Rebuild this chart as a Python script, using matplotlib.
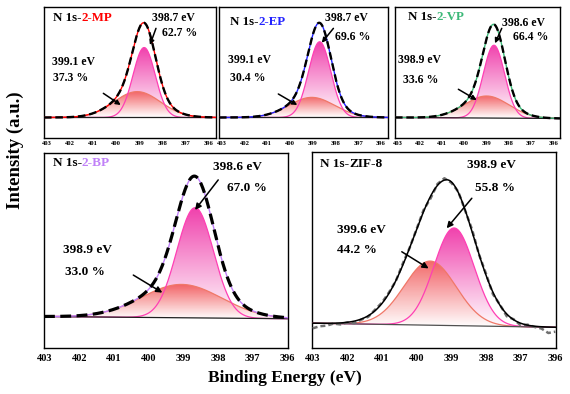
import numpy as np
import matplotlib
matplotlib.use('Agg')
import matplotlib.pyplot as plt
from matplotlib.colors import LinearSegmentedColormap

plt.rcParams['font.family'] = ['Liberation Serif', 'DejaVu Serif']
plt.rcParams['font.weight'] = 'bold'

# ---------------- data ----------------
energy_ticks = [403, 402, 401, 400, 399, 398, 397, 396]
samples = ['2-MP', '2-EP', '2-VP', '2-BP', 'ZIF-8']
sample_colors = ['#FF0000', '#2222FF', '#3CB878', '#C080F8', '#000000']

# main (pink) component: centre (eV), height (norm.), gaussian sigma (eV)
peak1_center = [398.80, 398.70, 398.67, 398.66, 398.92]
peak1_height = [0.73, 0.79, 0.76, 0.76, 0.67]
peak1_sigma = [0.48, 0.49, 0.48, 0.53, 0.58]
# second (salmon) component
peak2_center = [399.10, 399.05, 399.00, 399.05, 399.61]
peak2_height = [0.27, 0.21, 0.23, 0.23, 0.44]
peak2_sigma = [1.00, 1.00, 1.00, 1.15, 0.75]
# linear background (value at 403 eV, value at 396 eV)
baseline_ends = [(0.0, 0.0), (0.0, 0.0), (0.0, -0.01), (0.005, -0.01), (0.012, -0.016)]

label1_energy = ['398.7 eV', '398.7 eV', '398.6 eV', '398.6 eV', '398.9 eV']
label1_pct = ['62.7 %', '69.6 %', '66.4 %', '67.0 %', '55.8 %']
label2_energy = ['399.1 eV', '399.1 eV', '398.9 eV', '398.9 eV', '399.6 eV']
label2_pct = ['37.3 %', '30.4 %', '33.6 %', '33.0 %', '44.2 %']

# ZIF-8 fitted envelope (asymmetric) and raw spectrum
zif_env_center = 399.13
zif_env_height = 1.0
zif_env_sigma_high = 0.95
zif_env_sigma_low = 0.78
zif_raw_energy = [403.0, 402.8, 402.6, 402.4, 402.2, 402.0, 401.8, 401.6, 401.4, 401.2,
                  401.0, 400.8, 400.6, 400.4, 400.2, 400.0, 399.8, 399.6, 399.4, 399.2,
                  399.0, 398.8, 398.6, 398.4, 398.2, 398.0, 397.8, 397.6, 397.4, 397.2,
                  397.0, 396.8, 396.6, 396.4, 396.2, 396.0]
zif_raw_intensity = [-0.035, -0.02, -0.015, 0.0, -0.005, 0.01, 0.005, 0.03, 0.05, 0.10,
                     0.15, 0.22, 0.30, 0.42, 0.53, 0.66, 0.79, 0.87, 0.97, 1.01,
                     0.98, 0.92, 0.79, 0.66, 0.49, 0.36, 0.22, 0.15, 0.07, 0.05,
                     0.01, 0.015, 0.0, -0.01, -0.04, -0.03]

# ---------------- layout (style) ----------------
W, H = 570, 394
rects_px = [(44, 7, 216, 138), (219, 7, 388, 138), (395, 7, 560, 138),
            (44, 153, 288, 348), (312, 152, 556, 348)]
xlims = [(403.12, 395.7)] * 3 + [(403.02, 395.98)] * 2
ylims = [(-0.214, 1.153)] * 3 + [(-0.212, 1.133), (-0.158, 1.187)]
small = [True, True, True, False, False]

title_pos = [(0.05, 0.916), (0.065, 0.888), (0.081, 0.926), (0.036, 0.947), (0.033, 0.939)]
l1e_pos = [(0.626, 0.914), (0.627, 0.914), (0.647, 0.875), (0.694, 0.93), (0.634, 0.934)]
l1p_pos = [(0.684, 0.80), (0.686, 0.773), (0.717, 0.773), (0.749, 0.819), (0.668, 0.815)]
a1 = [((0.651, 0.837), (0.616, 0.71)), ((0.677, 0.837), (0.608, 0.727)),
      ((0.647, 0.837), (0.606, 0.723)), ((0.714, 0.862), (0.619, 0.708)),
      ((0.655, 0.764), (0.552, 0.611))]
l2e_pos = [(0.045, 0.582), (0.055, 0.595), (0.02, 0.595), (0.079, 0.503), (0.101, 0.602)]
l2p_pos = [(0.054, 0.456), (0.065, 0.456), (0.05, 0.443), (0.086, 0.391), (0.101, 0.50)]
a2 = [((0.345, 0.341), (0.446, 0.252)), ((0.351, 0.336), (0.463, 0.252)),
      ((0.384, 0.372), (0.495, 0.29)), ((0.366, 0.374), (0.485, 0.284)),
      ((0.368, 0.491), (0.478, 0.406))]

PINK_LINE = '#FF3FB4'
PINK_FILL = '#F040AC'
SALMON_LINE = '#F07868'
SALMON_FILL = '#F25A5A'


def gauss(x, c, h, s):
    return h * np.exp(-0.5 * ((x - c) / s) ** 2)


def grad_fill(ax, x, base, top, color, z, alpha=1.0):
    poly = ax.fill_between(x, base, top, facecolor='none', edgecolor='none', zorder=z)
    cmap = LinearSegmentedColormap.from_list('g', ['#FFFFFF', color])
    grad = np.linspace(0, 1, 256).reshape(-1, 1)
    img = ax.imshow(grad, cmap=cmap, aspect='auto', origin='lower',
                    extent=[x.min(), x.max(), base.min(), top.max()],
                    zorder=z, alpha=alpha, interpolation='bilinear')
    img.set_clip_path(poly.get_paths()[0], transform=ax.transData)


fig = plt.figure(figsize=(W / 100, H / 100), dpi=100)

for i in range(5):
    l, t, r, b = rects_px[i]
    ax = fig.add_axes([l / W, 1 - b / H, (r - l) / W, (b - t) / H])
    x = np.linspace(xlims[i][0], xlims[i][1], 800)
    b0, b1 = baseline_ends[i]
    base = b0 + (b1 - b0) * (403.0 - x) / 7.0
    p1 = gauss(x, peak1_center[i], peak1_height[i], peak1_sigma[i])
    p2 = gauss(x, peak2_center[i], peak2_height[i], peak2_sigma[i])

    grad_fill(ax, x, base, base + p1, PINK_FILL, 2)
    grad_fill(ax, x, base, base + p2, SALMON_FILL, 3, alpha=0.92)
    ax.plot(x, base + p2, color=SALMON_LINE, lw=0.9, zorder=4)
    ax.plot(x, base + p1, color=PINK_LINE, lw=0.9, zorder=4)

    if samples[i] == 'ZIF-8':
        env = np.where(x >= zif_env_center,
                       gauss(x, zif_env_center, zif_env_height, zif_env_sigma_high),
                       gauss(x, zif_env_center, zif_env_height, zif_env_sigma_low))
        ax.plot(x, base, color='#505050', lw=0.9, zorder=5)
        rx = np.array(zif_raw_energy)
        rbase = b0 + (b1 - b0) * (403.0 - rx) / 7.0
        ax.plot(rx, rbase + np.array(zif_raw_intensity), color='#707070', lw=1.8,
                ls=(0, (2, 1.2)), zorder=6)
        ax.plot(x, base + env, color='black', lw=1.1, zorder=7)
    else:
        env = p1 + p2
        ax.plot(x, base, color='#202020', lw=0.9, zorder=5)
        ax.plot(x, base + env, color=sample_colors[i], lw=1.0, zorder=6)
        if small[i]:
            ax.plot(x, base + env, color='black', lw=1.7, ls=(0, (3.2, 1.6)), zorder=7)
        else:
            ax.plot(x, base + env, color='black', lw=2.3, ls=(0, (3.4, 1.7)), zorder=7)

    ax.set_xlim(*xlims[i])
    ax.set_ylim(*ylims[i])
    ax.set_yticks([])
    ax.set_xticks(energy_ticks)
    ax.set_xticklabels([str(v) for v in energy_ticks])
    ax.tick_params(axis='x', length=0, pad=2.5 if small[i] else 4,
                   labelsize=4.8 if small[i] else 7.5)
    for sp in ax.spines.values():
        sp.set_linewidth(1.0)
        sp.set_color('black')

    fs_t = 9.3 if small[i] else 9.5
    fs_a = 8.5 if small[i] else 9.5
    t1 = ax.text(title_pos[i][0], title_pos[i][1], 'N 1s-', transform=ax.transAxes,
                 fontsize=fs_t, fontweight='bold', ha='left', va='center', zorder=10)
    ax.annotate(samples[i], xy=(1, 0), xycoords=t1, ha='left', va='bottom',
                fontsize=fs_t, fontweight='bold', color=sample_colors[i], zorder=10)

    ax.text(*l1e_pos[i], label1_energy[i], transform=ax.transAxes, fontsize=fs_a,
            fontweight='bold', ha='left', va='center', zorder=10)
    ax.text(*l1p_pos[i], label1_pct[i], transform=ax.transAxes, fontsize=fs_a,
            fontweight='bold', ha='left', va='center', zorder=10)
    ax.text(*l2e_pos[i], label2_energy[i], transform=ax.transAxes, fontsize=fs_a,
            fontweight='bold', ha='left', va='center', zorder=10)
    ax.text(*l2p_pos[i], label2_pct[i], transform=ax.transAxes, fontsize=fs_a,
            fontweight='bold', ha='left', va='center', zorder=10)
    ms = 7 if small[i] else 9
    for tail, head in (a1[i], a2[i]):
        ax.annotate('', xy=head, xytext=tail, xycoords='axes fraction',
                    textcoords='axes fraction', zorder=11,
                    arrowprops=dict(arrowstyle='-|>', color='black', lw=1.1,
                                    mutation_scale=ms, shrinkA=0, shrinkB=0))

fig.text(15 / W, 1 - 150 / H, 'Intensity (a.u.)', rotation=90, fontsize=13.5,
         fontweight='bold', ha='center', va='center')
fig.text(285 / W, 1 - 378 / H, 'Binding Energy (eV)', fontsize=12.5,
         fontweight='bold', ha='center', va='center')

fig.savefig('out.png', dpi=100)
